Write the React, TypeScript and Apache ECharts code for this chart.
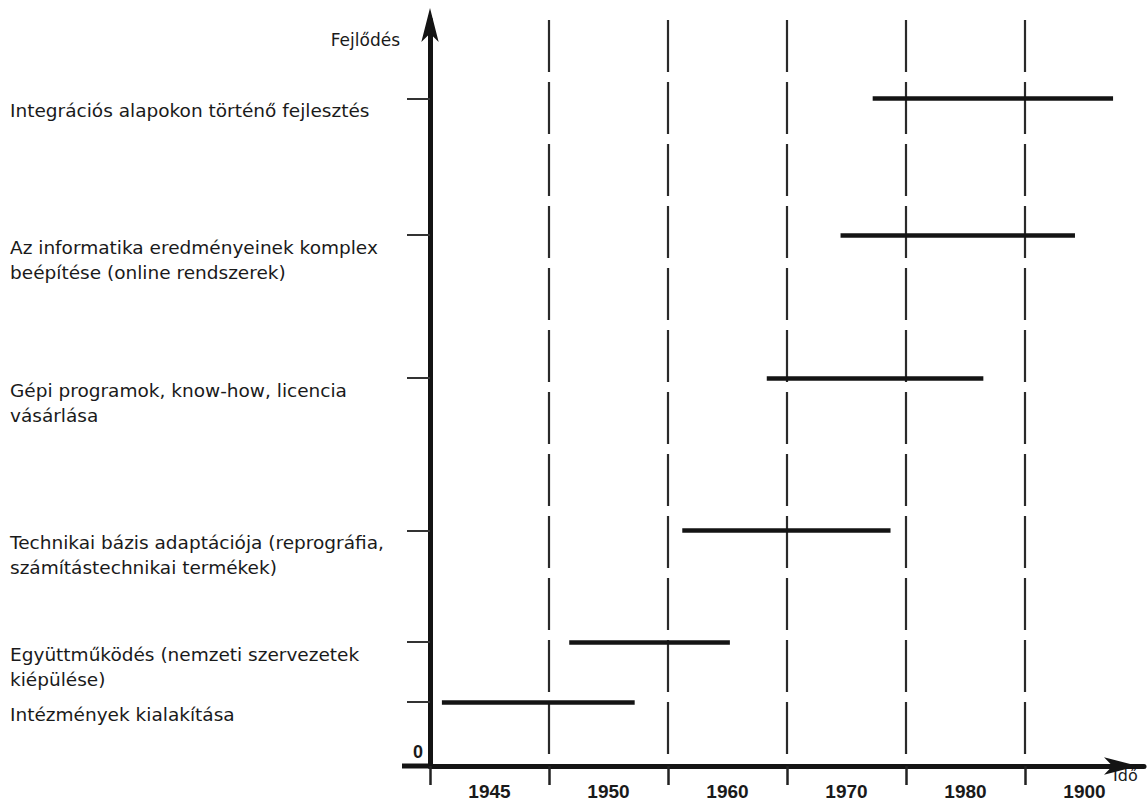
import React, { useEffect, useRef } from 'react';
import * as echarts from 'echarts';

// Period (time) categories on the horizontal axis
const periods = ['1945', '1950', '1960', '1970', '1980', '1900'];
// Boundaries between periods (in period units)
const periodBoundaries = [0, 1, 2, 3, 4, 5];

// Development stages
const stageLabels = [
  'Intézmények kialakítása',
  'Együttműködés (nemzeti szervezetek\nkiépülése)',
  'Technikai bázis adaptációja (reprográfia,\nszámítástechnikai termékek)',
  'Gépi programok, know-how, licencia\nvásárlása',
  'Az informatika eredményeinek komplex\nbeépítése (online rendszerek)',
  'Integrációs alapokon történő fejlesztés',
];
// Development level of each stage (0–100 scale)
const stageLevels = [8.6, 16.6, 31.6, 52.0, 71.2, 89.5];
// Start / end of each stage in period units (0 = start of 1945 period)
const stageStart = [0.10, 1.17, 2.12, 2.83, 3.45, 3.72];
const stageEnd = [1.72, 2.52, 3.87, 4.65, 5.42, 5.74];

const INK = '#141414';
const TEXT = '#1a1a1a';

export default function App() {
  const ref = useRef<HTMLDivElement>(null);

  useEffect(() => {
    if (!ref.current) return;
    const chart = echarts.init(ref.current, undefined, { renderer: 'svg' });

    const option: any = {
      animation: false,
      backgroundColor: '#ffffff',
      grid: { left: 430, right: 4, top: 20, bottom: 41, containLabel: false },
      xAxis: [
        {
          type: 'category',
          data: periods,
          boundaryGap: true,
          position: 'bottom',
          axisLine: {
            show: true,
            onZero: false,
            lineStyle: { color: INK, width: 5 },
            symbol: ['none', 'arrow'],
            symbolSize: [13, 34],
            symbolOffset: [0, -6],
          },
          axisTick: { show: false },
          splitLine: { show: false },
          axisLabel: {
            color: TEXT,
            fontSize: 19,
            fontWeight: 'bold',
            fontFamily: '"Liberation Sans", Arial, sans-serif',
            margin: 16,
          },
          name: 'Idő',
          nameLocation: 'end',
          nameGap: -31,
          nameTextStyle: {
            color: TEXT,
            fontSize: 16,
            fontFamily: '"DejaVu Sans", sans-serif',
            align: 'left',
            verticalAlign: 'top',
            padding: [1, 0, 0, 0],
          },
        },
        {
          type: 'value',
          min: 0,
          max: 6,
          position: 'bottom',
          axisLine: { show: false, onZero: false },
          axisLabel: { show: false },
          axisTick: {
            show: true,
            customValues: periodBoundaries,
            length: 19,
            lineStyle: { color: '#222', width: 2.5 },
          },
          splitLine: {
            show: true,
            lineStyle: { type: [52, 10], color: '#2a2a2a', width: 2.2 },
          },
        },
      ],
      yAxis: [
        {
          type: 'value',
          min: 0,
          max: 100,
          position: 'left',
          axisLine: {
            show: true,
            lineStyle: { color: INK, width: 5 },
            symbol: ['none', 'arrow'],
            symbolSize: [13, 34],
            symbolOffset: [0, 12],
          },
          axisTick: {
            show: true,
            customValues: stageLevels,
            length: 23,
            lineStyle: { color: '#333', width: 2 },
          },
          axisLabel: {
            show: true,
            customValues: stageLevels,
            formatter: (v: number) => {
              const i = stageLevels.findIndex((l) => Math.abs(l - v) < 1e-6);
              return i >= 0 ? stageLabels[i] : '';
            },
            align: 'left',
            verticalAlign: 'top',
            margin: 420,
            lineHeight: 25,
            fontSize: 18.5,
            fontFamily: '"DejaVu Sans", sans-serif',
            color: TEXT,
          },
          splitLine: { show: false },
          name: 'Fejlődés',
          nameLocation: 'end',
          nameGap: -20,
          nameTextStyle: {
            color: TEXT,
            fontSize: 17,
            fontFamily: '"DejaVu Sans", sans-serif',
            align: 'right',
            verticalAlign: 'middle',
            padding: [0, 30, 0, 0],
          },
        },
        {
          type: 'value',
          min: 0,
          max: 100,
          position: 'left',
          axisLine: { show: false },
          axisTick: { show: false },
          splitLine: { show: false },
          axisLabel: {
            customValues: [0],
            margin: 7,
            verticalAlign: 'bottom',
            fontSize: 18,
            fontWeight: 'bold',
            fontFamily: '"Liberation Sans", Arial, sans-serif',
            color: TEXT,
            padding: [0, 0, 5, 0],
          },
        },
      ],
      graphic: [
        {
          type: 'rect',
          left: 402,
          top: 763.5,
          shape: { width: 30, height: 5 },
          style: { fill: INK },
        },
      ],
      series: [
        {
          type: 'lines',
          coordinateSystem: 'cartesian2d',
          xAxisIndex: 1,
          yAxisIndex: 0,
          polyline: false,
          silent: true,
          lineStyle: { color: INK, width: 4.5, opacity: 1, cap: 'butt', curveness: 0 },
          data: stageStart.map((s, i) => ({
            coords: [
              [s, stageLevels[i]],
              [stageEnd[i], stageLevels[i]],
            ],
          })),
        },
      ],
    };

    chart.setOption(option);
    return () => chart.dispose();
  }, []);

  return (
    <div
      ref={ref}
      style={{ position: 'fixed', left: 0, top: 0, width: 1148, height: 807, background: '#fff' }}
    />
  );
}
